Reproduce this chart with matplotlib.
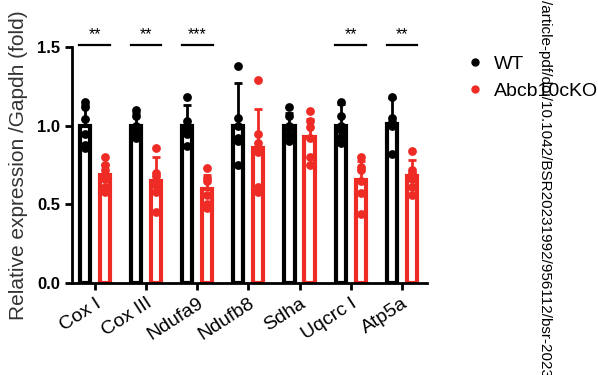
import numpy as np
import matplotlib
matplotlib.use("Agg")
import matplotlib.pyplot as plt
from matplotlib.lines import Line2D

plt.rcParams['font.family'] = ['Liberation Sans', 'DejaVu Sans']

genes = ["Cox I", "Cox III", "Ndufa9", "Ndufb8", "Sdha", "Uqcrc I", "Atp5a"]

wt_points = [
    [1.15, 1.12, 1.04, 0.95, 0.88, 0.86],
    [1.10, 1.06, 1.00, 0.97, 0.95, 0.92],
    [1.18, 1.03, 1.00, 0.97, 0.95, 0.87],
    [1.38, 1.05, 1.00, 0.92, 0.90, 0.75],
    [1.12, 1.06, 1.00, 0.98, 0.94, 0.90],
    [1.15, 1.06, 1.00, 0.97, 0.93, 0.89],
    [1.18, 1.05, 1.02, 1.01, 1.00, 0.82],
]
ko_points = [
    [0.80, 0.75, 0.72, 0.66, 0.61, 0.58],
    [0.86, 0.70, 0.68, 0.62, 0.58, 0.45],
    [0.73, 0.67, 0.65, 0.56, 0.50, 0.48],
    [1.29, 0.95, 0.89, 0.83, 0.61, 0.58],
    [1.09, 1.03, 0.99, 0.92, 0.80, 0.75],
    [0.80, 0.74, 0.72, 0.65, 0.57, 0.44],
    [0.84, 0.72, 0.70, 0.66, 0.61, 0.56],
]
wt_err = [0.13, 0.08, 0.13, 0.27, 0.08, 0.14, 0.16]
ko_err = [0.07, 0.15, 0.09, 0.25, 0.11, 0.12, 0.10]
sig = {0: "**", 1: "**", 2: "***", 5: "**", 6: "**"}

red = "#ee2b25"
x = np.arange(len(genes))
off = 0.196
w = 0.2

fig = plt.figure(figsize=(5.98, 3.75), dpi=100)
ax = fig.add_axes([0.12, 0.245, 0.594, 0.63])

for grp, pts, err, col, dx in [("WT", wt_points, wt_err, "black", -off),
                               ("Abcb10cKO", ko_points, ko_err, red, off)]:
    means = [np.mean(p) for p in pts]
    ax.bar(x + dx, means, width=w, facecolor="white", edgecolor=col, linewidth=3, zorder=2)
    ax.errorbar(x + dx, means, yerr=[np.zeros(len(err)), err], fmt="none",
                ecolor=col, elinewidth=2, capsize=3, capthick=2, zorder=3)
    for i, p in enumerate(pts):
        ax.scatter(np.full(len(p), x[i] + dx), p, s=40, color=col, zorder=4, linewidths=0)

for i, s in sig.items():
    ax.plot([x[i] - 0.3, x[i] + 0.3], [1.51, 1.51], color="black", lw=1.6, clip_on=False)
    ax.text(x[i], 1.53, s, ha="center", va="bottom", fontsize=11.5, clip_on=False)

ax.set_xlim(-0.45, 6.49)
ax.set_ylim(0, 1.5)
ax.set_yticks([0, 0.5, 1.0, 1.5])
ax.set_yticklabels(["0.0", "0.5", "1.0", "1.5"], fontweight="bold", fontsize=12)
ax.set_xticks(x)
ax.set_xticklabels(genes, rotation=33, ha="right", rotation_mode="anchor", fontsize=14)
ax.set_ylabel("Relative expression /Gapdh (fold)", fontsize=15, color="#333333", labelpad=6)
for sp in ["top", "right"]:
    ax.spines[sp].set_visible(False)
for sp in ["left", "bottom"]:
    ax.spines[sp].set_linewidth(2)
ax.tick_params(width=2, length=5)

handles = [Line2D([], [], marker="o", ls="", color="black", markersize=5),
           Line2D([], [], marker="o", ls="", color=red, markersize=5)]
ax.legend(handles, ["WT", "Abcb10cKO"], loc="upper left", bbox_to_anchor=(1.03, 1.04),
          frameon=False, fontsize=14, handletextpad=0.0, labelspacing=0.5)

fig.text(0.912, 1.0, "/article-pdf/doi/10.1042/BSR20231992/956112/bsr-2023-1992.pdf",
         rotation=-90, ha="center", va="top", fontsize=11)

fig.savefig("out.png", dpi=100)
